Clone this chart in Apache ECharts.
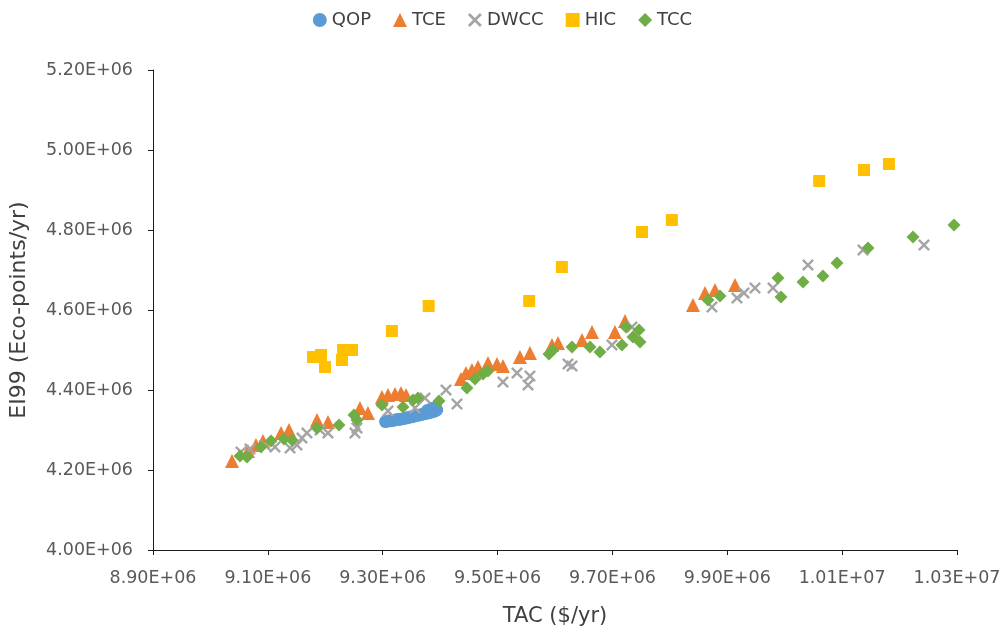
<!DOCTYPE html>
<html>
<head>
<meta charset="utf-8">
<script src="https://cdn.jsdelivr.net/npm/echarts@6/dist/echarts.min.js"></script>
<style>html,body{margin:0;padding:0;background:#fff}#c{width:1005px;height:635px}</style>
</head>
<body>
<div id="c"></div>
<script>
var seriesNames = ['QOP', 'TCE', 'DWCC', 'HIC', 'TCC'];
var xTicks = [8.9e6, 9.1e6, 9.3e6, 9.5e6, 9.7e6, 9.9e6, 10.1e6, 10.3e6];
var yTicks = [4.0e6, 4.2e6, 4.4e6, 4.6e6, 4.8e6, 5.0e6, 5.2e6];

var qop = [
  [9.305e6, 4.321e6], [9.312e6, 4.323e6], [9.318e6, 4.324e6], [9.325e6, 4.326e6],
  [9.331e6, 4.327e6], [9.338e6, 4.329e6], [9.344e6, 4.331e6], [9.350e6, 4.333e6],
  [9.356e6, 4.335e6], [9.362e6, 4.337e6], [9.368e6, 4.339e6], [9.374e6, 4.341e6],
  [9.380e6, 4.343e6], [9.385e6, 4.345e6], [9.390e6, 4.347e6], [9.394e6, 4.350e6],
  [9.390e6, 4.352e6], [9.384e6, 4.349e6], [9.392e6, 4.356e6], [9.386e6, 4.354e6],
  [9.378e6, 4.349e6]
];
var tce = [
  [9.0376e6, 4.2225e6], [9.0654e6, 4.2475e6], [9.0793e6, 4.2625e6], [9.0915e6, 4.2725e6],
  [9.1229e6, 4.2925e6], [9.1368e6, 4.300e6], [9.1856e6, 4.325e6], [9.2047e6, 4.320e6],
  [9.2604e6, 4.355e6], [9.2743e6, 4.3425e6], [9.2987e6, 4.3825e6], [9.3092e6, 4.3875e6],
  [9.3214e6, 4.390e6], [9.3318e6, 4.3925e6], [9.3405e6, 4.3875e6], [9.4363e6, 4.4275e6],
  [9.4450e6, 4.4425e6], [9.4554e6, 4.450e6], [9.4659e6, 4.4575e6], [9.4833e6, 4.4675e6],
  [9.4990e6, 4.465e6], [9.5094e6, 4.460e6], [9.5390e6, 4.4825e6], [9.5564e6, 4.4925e6],
  [9.5948e6, 4.5125e6], [9.6052e6, 4.5175e6], [9.6470e6, 4.525e6], [9.6644e6, 4.545e6],
  [9.7044e6, 4.545e6], [9.7219e6, 4.5725e6], [9.8403e6, 4.6125e6], [9.8612e6, 4.6425e6],
  [9.8786e6, 4.650e6], [9.9134e6, 4.6625e6]
];
var dwcc = [
  [9.0532e6, 4.245e6], [9.0689e6, 4.2525e6], [9.0950e6, 4.2625e6], [9.1124e6, 4.2575e6],
  [9.1386e6, 4.255e6], [9.1507e6, 4.2625e6], [9.1594e6, 4.280e6], [9.1681e6, 4.2925e6],
  [9.1908e6, 4.300e6], [9.2047e6, 4.2925e6], [9.2517e6, 4.2925e6], [9.2552e6, 4.305e6],
  [9.3092e6, 4.3475e6], [9.3562e6, 4.355e6], [9.3736e6, 4.380e6], [9.4102e6, 4.400e6],
  [9.4293e6, 4.365e6], [9.5094e6, 4.420e6], [9.5338e6, 4.4425e6], [9.5564e6, 4.435e6],
  [9.5530e6, 4.4125e6], [9.6226e6, 4.465e6], [9.6296e6, 4.460e6], [9.6992e6, 4.5125e6],
  [9.7340e6, 4.5575e6], [9.8733e6, 4.6075e6], [9.9169e6, 4.630e6], [9.9291e6, 4.6425e6],
  [9.9482e6, 4.655e6], [9.9796e6, 4.655e6], [10.0405e6, 4.7125e6], [10.1363e6, 4.750e6],
  [10.2425e6, 4.7625e6]
];
var hic = [
  [9.1786e6, 4.4825e6], [9.1925e6, 4.4875e6], [9.1995e6, 4.4575e6], [9.2290e6, 4.475e6],
  [9.2310e6, 4.500e6], [9.2465e6, 4.500e6], [9.3160e6, 4.5475e6], [9.3800e6, 4.610e6],
  [9.5550e6, 4.6225e6], [9.6120e6, 4.7075e6], [9.7515e6, 4.795e6], [9.8035e6, 4.825e6],
  [10.060e6, 4.9225e6], [10.138e6, 4.950e6], [10.1815e6, 4.965e6]
];
var tcc = [
  [9.0515e6, 4.235e6], [9.0637e6, 4.2325e6], [9.0880e6, 4.2575e6], [9.1055e6, 4.2725e6],
  [9.1281e6, 4.2775e6], [9.1420e6, 4.275e6], [9.1856e6, 4.305e6], [9.2239e6, 4.3125e6],
  [9.2500e6, 4.3375e6], [9.2552e6, 4.325e6], [9.2987e6, 4.3625e6], [9.3353e6, 4.3575e6],
  [9.3527e6, 4.375e6], [9.3614e6, 4.380e6], [9.3980e6, 4.3725e6], [9.4467e6, 4.405e6],
  [9.4607e6, 4.4275e6], [9.4746e6, 4.440e6], [9.4833e6, 4.4475e6], [9.5895e6, 4.490e6],
  [9.5965e6, 4.500e6], [9.6296e6, 4.5075e6], [9.6609e6, 4.5075e6], [9.6783e6, 4.495e6],
  [9.7166e6, 4.5125e6], [9.7236e6, 4.5575e6], [9.7358e6, 4.5325e6], [9.7463e6, 4.550e6],
  [9.7480e6, 4.520e6], [9.8664e6, 4.625e6], [9.8873e6, 4.635e6], [9.9883e6, 4.680e6],
  [9.9935e6, 4.6325e6], [10.0318e6, 4.670e6], [10.0666e6, 4.685e6], [10.0910e6, 4.7175e6],
  [10.1450e6, 4.755e6], [10.2234e6, 4.7825e6], [10.2948e6, 4.8125e6]
];

function sci(v) {
  var s = Number(v).toExponential(2).toUpperCase();
  return s.replace(/E([+-])(\d)$/, 'E$10$2');
}

var FONT = 'DejaVu Sans';
var xPath = 'path://M0,1.4 L1.4,0 L5,3.6 L8.6,0 L10,1.4 L6.4,5 L10,8.6 L8.6,10 L5,6.4 L1.4,10 L0,8.6 L3.6,5 Z';
var colors = ['#5B9BD5', '#ED7D31', '#A5A5A5', '#FFC000', '#70AD47'];
var symbols = ['circle', 'triangle', xPath, 'rect', 'diamond'];
var sizes = [13, 14, 12, 12, 13];
var datasets = [qop, tce, dwcc, hic, tcc];

var chart = echarts.init(document.getElementById('c'), null, {renderer: 'canvas'});
chart.setOption({
  animation: false,
  backgroundColor: '#fff',
  color: colors,
  legend: {
    top: 6,
    left: 'center',
    itemWidth: 14,
    itemHeight: 14,
    itemGap: 22,
    textStyle: {fontFamily: FONT, fontSize: 18, color: '#404040'},
    data: seriesNames
  },
  grid: {left: 153, right: 48, top: 70, bottom: 85, containLabel: false},
  xAxis: {
    type: 'value',
    min: 8.9e6,
    max: 10.3e6,
    name: 'TAC ($/yr)',
    nameLocation: 'middle',
    nameGap: 56,
    nameTextStyle: {fontFamily: FONT, fontSize: 21, color: '#404040'},
    axisLine: {show: true, onZero: false, lineStyle: {color: '#1a1a1a', width: 1}},
    axisTick: {show: true, length: 5, inside: false, customValues: xTicks, lineStyle: {color: '#1a1a1a'}},
    axisLabel: {customValues: xTicks, formatter: sci, margin: 19, fontFamily: FONT, fontSize: 17.5, color: '#595959'},
    splitLine: {show: false}
  },
  yAxis: {
    type: 'value',
    min: 4.0e6,
    max: 5.2e6,
    interval: 2e5,
    name: 'EI99 (Eco-points/yr)',
    nameLocation: 'middle',
    nameGap: 123,
    nameTextStyle: {fontFamily: FONT, fontSize: 22, color: '#404040'},
    axisLine: {show: true, onZero: false, lineStyle: {color: '#1a1a1a', width: 1}},
    axisTick: {show: true, length: 5, inside: false, lineStyle: {color: '#1a1a1a'}},
    axisLabel: {formatter: sci, margin: 20, fontFamily: FONT, fontSize: 17.5, color: '#595959'},
    splitLine: {show: false}
  },
  series: seriesNames.map(function (n, i) {
    return {
      name: n,
      type: 'scatter',
      symbol: symbols[i],
      symbolSize: sizes[i],
      itemStyle: {color: colors[i], opacity: 1},
      data: datasets[i]
    };
  })
});
</script>
</body>
</html>
